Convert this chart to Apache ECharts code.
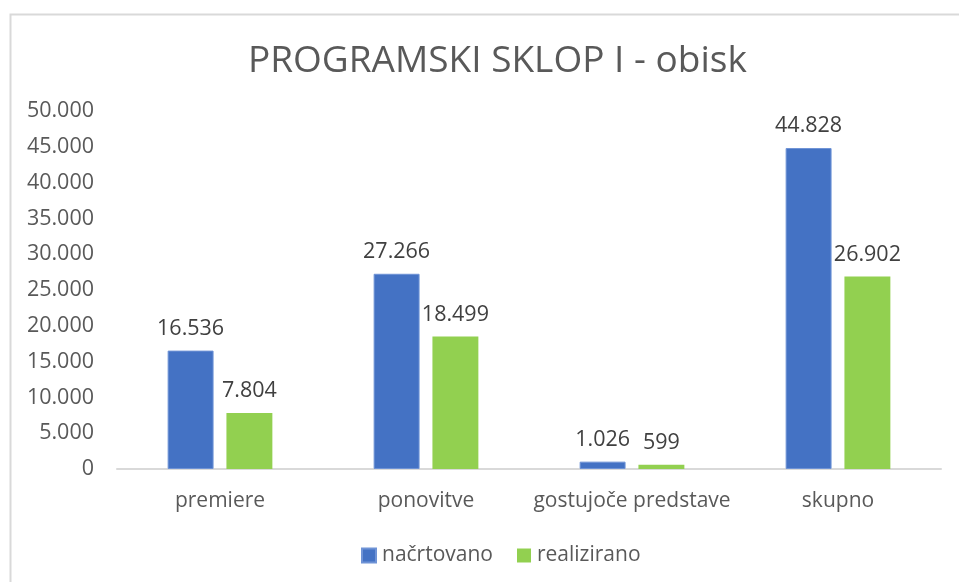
<!DOCTYPE html>
<html>
<head>
<meta charset="utf-8">
<script src="https://cdn.jsdelivr.net/npm/echarts@6/dist/echarts.min.js"></script>
<style>
  html, body { margin: 0; padding: 0; background: #fff; }
  #main { width: 959px; height: 582px; }
</style>
</head>
<body>
<div id="main"></div>
<script>
const categories = ['premiere', 'ponovitve', 'gostujoče predstave', 'skupno'];
const planned = [16536, 27266, 1026, 44828];
const realised = [7804, 18499, 599, 26902];
const seriesNames = ['načrtovano', 'realizirano'];

const chart = echarts.init(document.getElementById('main'));
const font = '"Open Sans", "Noto Sans", sans-serif';

// thousands with a dot, like the original
function fmt(v) {
  return String(v).replace(/\B(?=(\d{3})+(?!\d))/g, '.');
}

const option = {
  animation: false,
  textStyle: { fontFamily: font },
  title: {
    text: 'PROGRAMSKI SKLOP I - obisk',
    left: 243,
    top: 38,
    textStyle: { fontFamily: font, fontSize: 37, fontWeight: 'normal', color: '#595959' }
  },
  graphic: [{
    type: 'rect',
    shape: { x: 10.5, y: 14.5, width: 1000, height: 700 },
    style: { fill: 'none', stroke: '#d9d9d9', lineWidth: 2 },
    silent: true
  }],
  legend: {
    bottom: 11,
    left: 356,
    itemWidth: 14,
    itemHeight: 14,
    itemGap: 24,
    icon: 'rect',
    textStyle: { fontFamily: font, fontSize: 21, color: '#595959', padding: [0, 0, 0, 1] },
    data: seriesNames
  },
  grid: { left: 117, right: 18, top: 111, bottom: 113, containLabel: false },
  xAxis: {
    type: 'category',
    data: categories,
    axisLine: { lineStyle: { color: '#d9d9d9', width: 2 } },
    axisTick: { show: false },
    axisLabel: { interval: 0, fontFamily: font, fontSize: 21, color: '#595959', margin: 22 }
  },
  yAxis: {
    type: 'value',
    min: 0,
    max: 50000,
    interval: 5000,
    splitLine: { show: false },
    axisLine: { show: false },
    axisTick: { show: false },
    axisLabel: { fontFamily: font, fontSize: 21.5, color: '#595959', margin: 23, formatter: fmt }
  },
  series: [
    {
      name: seriesNames[0],
      type: 'bar',
      data: planned,
      barWidth: '22.3%',
      barGap: '28%',
      itemStyle: { color: '#4472C4', borderColor: '#6f93d6', borderWidth: 1 },
      label: {
        show: true, position: 'top', distance: 11,
        fontFamily: font, fontSize: 21.5, color: '#404040',
        formatter: p => fmt(p.value)
      }
    },
    {
      name: seriesNames[1],
      type: 'bar',
      data: realised,
      barWidth: '22.3%',
      itemStyle: { color: '#92D050' },
      label: {
        show: true, position: 'top', distance: 11,
        fontFamily: font, fontSize: 21.5, color: '#404040',
        formatter: p => fmt(p.value)
      }
    }
  ]
};

chart.setOption(option);
</script>
</body>
</html>
